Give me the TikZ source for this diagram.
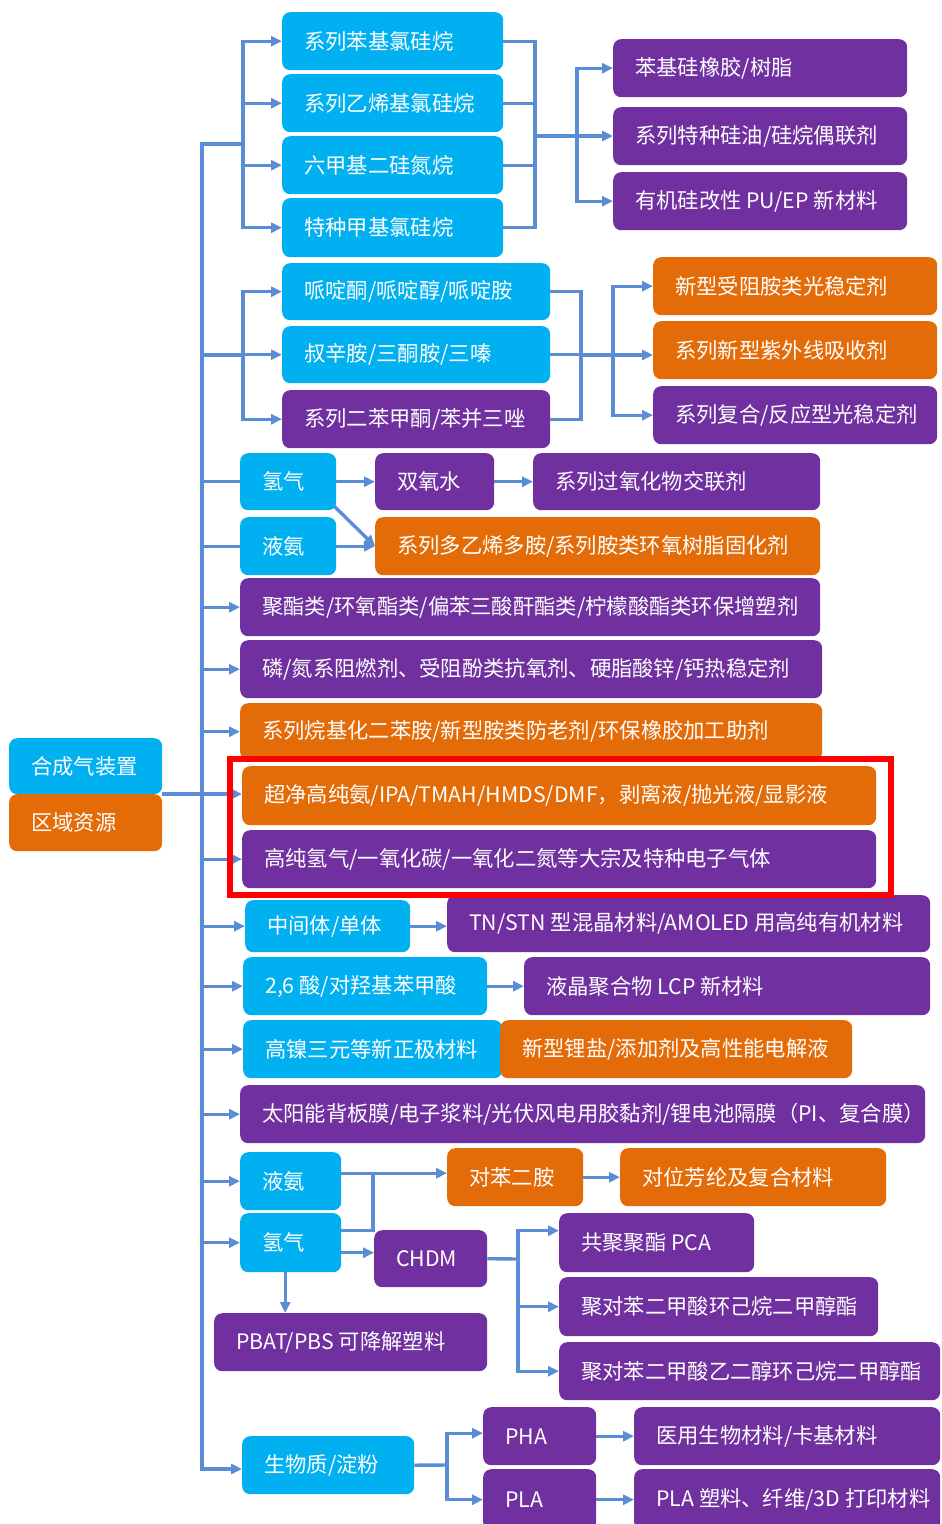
\documentclass[tikz,border=0pt]{standalone}
\usepackage{fontspec}
\setmainfont{Noto Sans CJK SC}
\usetikzlibrary{arrows.meta}
\definecolor{cblue}{HTML}{00B0F0}
\definecolor{cpurp}{HTML}{7030A0}
\definecolor{corng}{HTML}{E36C09}
\definecolor{cline}{HTML}{5B8DD6}
\definecolor{cred}{HTML}{FF0000}
\tikzset{
  boxstyle/.style={rectangle, rounded corners=8pt, inner xsep=22pt, inner ysep=0pt,
    text=white, font=\fontsize{21.3}{25}\selectfont, draw=none},
  conn/.style={draw=cline, line width=3.4pt},
  arr/.style={conn, -{Triangle[length=11pt,width=10pt]}},
}
\newcommand\bx[7]{\node[boxstyle, fill=#6, minimum width={#4-#2}, minimum height={#5-#3}, anchor=north west] (#1) at (#2,#3) {\makebox[\dimexpr #4pt-#2pt-44pt\relax][l]{#7}};}
\begin{document}
\begin{tikzpicture}[x=1pt,y=-1pt]
\useasboundingbox (0,0) rectangle (942,1524);
\clip (0,0) rectangle (942,1524);
\fill[white] (0,0) rectangle (942,1524);

% left sources
\bx{hc}{9}{738}{162}{794}{cblue}{合成气装置}
\bx{qy}{9}{794}{162}{851}{corng}{区域资源}

% group 1
\bx{a1}{282}{12}{503}{70}{cblue}{系列苯基氯硅烷}
\bx{a2}{282}{74}{503}{132}{cblue}{系列乙烯基氯硅烷}
\bx{a3}{282}{136}{503}{194}{cblue}{六甲基二硅氮烷}
\bx{a4}{282}{198}{503}{257}{cblue}{特种甲基氯硅烷}
\bx{p1}{613}{39}{907}{97}{cpurp}{苯基硅橡胶/树脂}
\bx{p2}{613}{107}{907}{165}{cpurp}{系列特种硅油/硅烷偶联剂}
\bx{p3}{613}{172}{907}{230}{cpurp}{有机硅改性 PU/EP 新材料}

% group 2
\bx{c1}{282}{263}{550}{320}{cblue}{哌啶酮/哌啶醇/哌啶胺}
\bx{c2}{282}{326}{550}{383}{cblue}{叔辛胺/三酮胺/三嗪}
\bx{c3}{282}{390}{550}{448}{cpurp}{系列二苯甲酮/苯并三唑}
\bx{o1}{653}{257}{937}{315}{corng}{新型受阻胺类光稳定剂}
\bx{o2}{653}{321}{937}{379}{corng}{系列新型紫外线吸收剂}
\bx{o3}{653}{386}{937}{444}{cpurp}{系列复合/反应型光稳定剂}

% group 3
\bx{h1}{240}{453}{336}{510}{cblue}{氢气}
\bx{h2}{240}{517}{336}{575}{cblue}{液氨}
\bx{sy}{375}{453}{494}{510}{cpurp}{双氧水}
\bx{gy}{533}{453}{820}{510}{cpurp}{系列过氧化物交联剂}
\bx{dy}{375}{517}{820}{575}{corng}{系列多乙烯多胺/系列胺类环氧树脂固化剂}
\bx{jz}{240}{578}{820}{636}{cpurp}{聚酯类/环氧酯类/偏苯三酸酐酯类/柠檬酸酯类环保增塑剂}

% group 4
\bx{lz}{240}{640}{822}{698}{cpurp}{磷/氮系阻燃剂、受阻酚类抗氧剂、硬脂酸锌/钙热稳定剂}
\bx{xl}{240}{703}{822}{760}{corng}{系列烷基化二苯胺/新型胺类防老剂/环保橡胶加工助剂}
\bx{cj}{242}{766}{876}{825}{corng}{超净高纯氨/IPA/TMAH/HMDS/DMF，剥离液/抛光液/显影液}
\bx{gc}{242}{830}{876}{888}{cpurp}{高纯氢气/一氧化碳/一氧化二氮等大宗及特种电子气体}

% group 5
\bx{zj}{245}{900}{410}{952}{cblue}{中间体/单体}
\bx{tn}{447}{895}{930}{952}{cpurp}{TN/STN 型混晶材料/AMOLED 用高纯有机材料}
\bx{ls}{243}{957}{487}{1015}{cblue}{2,6 酸/对羟基苯甲酸}
\bx{lc}{524}{957}{930}{1015}{cpurp}{液晶聚合物 LCP 新材料}
\bx{gn}{243}{1020}{502}{1078}{cblue}{高镍三元等新正极材料}
\bx{xx}{500}{1020}{852}{1078}{corng}{新型锂盐/添加剂及高性能电解液}
\bx{ty}{240}{1085}{925}{1143}{cpurp}{太阳能背板膜/电子浆料/光伏风电用胶黏剂/锂电池隔膜（PI、复合膜）}

% group 6
\bx{ya}{240}{1152}{341}{1210}{cblue}{液氨}
\bx{qq}{240}{1213}{341}{1272}{cblue}{氢气}
\bx{db}{447}{1148}{583}{1206}{corng}{对苯二胺}
\bx{dw}{620}{1148}{886}{1206}{corng}{对位芳纶及复合材料}
\bx{cd}{374}{1230}{487}{1287}{cpurp}{CHDM}
\bx{pc}{559}{1213}{754}{1272}{cpurp}{共聚聚酯 PCA}
\bx{ph}{559}{1277}{878}{1336}{cpurp}{聚对苯二甲酸环己烷二甲醇酯}
\bx{pe}{559}{1342}{940}{1400}{cpurp}{聚对苯二甲酸乙二醇环己烷二甲醇酯}
\bx{pb}{214}{1313}{487}{1371}{cpurp}{PBAT/PBS 可降解塑料}

% group 7
\bx{sw}{242}{1436}{414}{1494}{cblue}{生物质/淀粉}
\bx{pha}{483}{1407}{596}{1465}{cpurp}{PHA}
\bx{pla}{483}{1469}{596}{1530}{cpurp}{PLA}
\bx{yy}{634}{1407}{940}{1465}{cpurp}{医用生物材料/卡基材料}
\bx{pl}{634}{1469}{940}{1530}{cpurp}{PLA 塑料、纤维/3D 打印材料}

% junction coordinates
\coordinate (ttop) at (202,144);
\coordinate (tbot) at (202,1469);
\coordinate (b1) at (243,144);
\coordinate (r1) at (535,136);
\coordinate (r2) at (577,136);
\coordinate (b2) at (243,355);
\coordinate (r3) at (581,355);
\coordinate (r4) at (613,355);
\coordinate (jn) at (373,1173);
\coordinate (r5) at (518,1259);
\coordinate (r6) at (447,1465);

% trunk
\draw[arr] (b1) -- (ttop) -- (tbot) -- (tbot -| sw.west);

% group 1 connectors
\foreach \n in {a1,a2,a3,a4} \draw[arr] (b1) |- (\n.west);
\foreach \n in {a1,a2,a3,a4} \draw[conn] (\n.east) -| (r1);
\draw[conn] (r1) -- (r2);
\draw[arr] (r2) |- (p1.west);
\draw[arr] (r2) -- (r2 -| p2.west);
\draw[arr] (r2) |- (p3.west);

% group 2 connectors
\draw[conn] (b2 -| ttop) -- (b2);
\foreach \n in {c1,c2,c3} \draw[arr] (b2) |- (\n.west);
\foreach \n in {c1,c2,c3} \draw[conn] (\n.east) -| (r3);
\draw[conn] (r3) -- (r4);
\draw[arr] (r4) |- (o1.west);
\draw[arr] (r4) -- (r4 -| o2.west);
\draw[arr] (r4) |- (o3.west);

% group 3 connectors
\draw[conn] (h1.west -| ttop) -- (h1.west);
\draw[conn] (h2.west -| ttop) -- (h2.west);
\draw[arr] (h1.east) -- (sy.west);
\draw[arr] (sy.east) -- (gy.west);
\draw[arr] ([shift={(-2pt,4pt)}]h1.south east) -- (dy.west);
\draw[arr] (h2.east) -- (dy.west);
\draw[arr] (jz.west -| ttop) -- (jz.west);

% group 4 connectors
\draw[arr] (lz.west -| ttop) -- (lz.west);
\draw[arr] (xl.west -| ttop) -- (xl.west);
\draw[arr] (qy.north east) -- (qy.north east -| cj.west);
\draw[arr] (gc.west -| ttop) -- (gc.west);

% group 5 connectors
\draw[arr] (zj.west -| ttop) -- (zj.west);
\draw[arr] (zj.east) -- (zj.east -| tn.west);
\draw[arr] (ls.west -| ttop) -- (ls.west);
\draw[arr] (ls.east) -- (ls.east -| lc.west);
\draw[arr] (gn.west -| ttop) -- (gn.west);
\draw[arr] (ty.west -| ttop) -- (ty.west);

% group 6 connectors
\draw[arr] (ya.west -| ttop) -- (ya.west);
\draw[arr] (qq.west -| ttop) -- (qq.west);
\draw[arr] ([yshift=8pt]ya.east) -- ([yshift=8pt]ya.east -| db.west);
\draw[conn] ([yshift=12.5pt]qq.east) -| (jn);
\draw[arr] ([yshift=-10pt]qq.east) -- ([yshift=-10pt]qq.east -| cd.west);
\draw[arr] ([xshift=-5.5pt]qq.south) -- ([xshift=-5.5pt]qq.south |- pb.north);
\draw[arr] (db.east) -- (db.east -| dw.west);
\draw[conn] (cd.east) -- (r5);
\draw[arr] (r5) |- ([yshift=12pt]pc.west);
\draw[arr] (r5) |- (ph.west);
\draw[arr] (r5) |- (pe.west);

% group 7 connectors
\draw[conn] (sw.east) -- (r6);
\draw[arr] (r6) |- ([yshift=3pt]pha.west);
\draw[arr] (r6) |- (pla.west);
\draw[arr] (pha.east) -- (pha.east -| yy.west);
\draw[arr] (pla.east) -- (pla.east -| pl.west);

% highlight frame
\draw[cred, line width=6pt] (230,759) rectangle (891,895);
\end{tikzpicture}
\end{document}
